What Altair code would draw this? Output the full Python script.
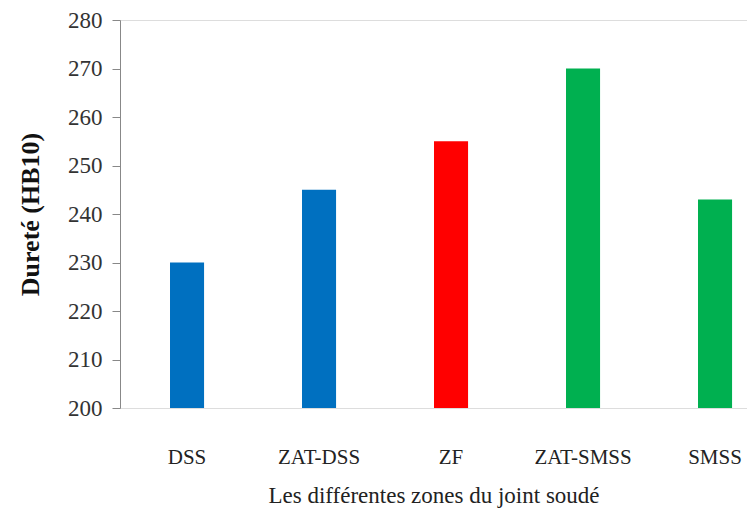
import altair as alt
import pandas as pd

zones = ["DSS", "ZAT-DSS", "ZF", "ZAT-SMSS", "SMSS"]
durete = [230, 245, 255, 270, 243]
colors = ["#0070C0", "#0070C0", "#FF0000", "#00B050", "#00B050"]

df = pd.DataFrame({"zone": zones, "durete": durete, "color": colors})

chart = alt.Chart(df).mark_bar(clip=True).encode(
    x=alt.X("zone:N", sort=zones,
            scale=alt.Scale(paddingInner=0.742, paddingOuter=0.246, align=0.77),
            axis=alt.Axis(title="Les différentes zones du joint soudé", labelAngle=0,
                          domain=False, ticks=False, labelPadding=38,
                          labelFont="Liberation Serif", labelFontSize=21, labelColor="#222",
                          titleFont="Liberation Serif", titleFontSize=23, titleFontWeight="normal",
                          titleColor="#222", titlePadding=17)),
    y=alt.Y("durete:Q", scale=alt.Scale(domain=[200, 280], nice=False, zero=False),
            axis=alt.Axis(title="Dureté (HB10)", values=list(range(200, 281, 10)),
                          grid=False, domain=True, domainColor="#888", ticks=True,
                          tickColor="#888", tickSize=8, labelPadding=10,
                          labelFont="Liberation Serif", labelFontSize=23, labelColor="#333",
                          titleFont="Liberation Serif", titleFontSize=26, titleFontWeight="bold",
                          titleColor="#111", titlePadding=24)),
    color=alt.Color("color:N", scale=None),
).properties(
    width=627, height=388,
    autosize=alt.AutoSizeParams(type="none"),
    padding={"left": 120, "top": 20, "right": 0, "bottom": 113},
).configure_view(stroke=None).configure(background="white")

chart.save("out.html", embed_options={"renderer": "svg", "actions": False})
